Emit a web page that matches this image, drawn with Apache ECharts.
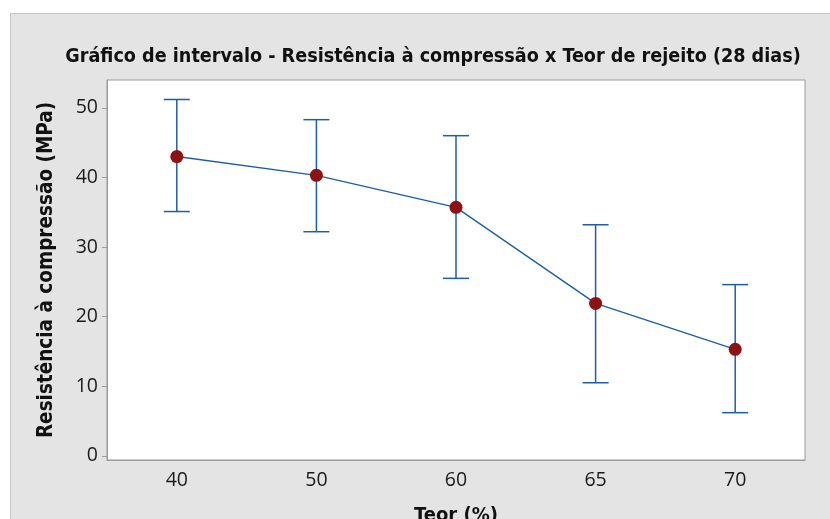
<!DOCTYPE html>
<html>
<head>
<meta charset="utf-8">
<script src="https://cdn.jsdelivr.net/npm/echarts@6/dist/echarts.min.js"></script>
<style>
    html, body { margin: 0; padding: 0; background: #fff; }
    #intervalo { width: 830px; height: 519px; }
</style>
</head>
<body>
<div id="intervalo"></div>
<script>
    // dados
    var teor = ['40', '50', '60', '65', '70'];
    var media = [43.0, 40.3, 35.7, 21.9, 15.3];
    var limiteInf = [35.1, 32.2, 25.5, 10.5, 6.2];
    var limiteSup = [51.2, 48.3, 46.0, 33.2, 24.6];
    var yTicks = [0, 10, 20, 30, 40, 50];

    var azul = '#1d5fa6';
    var barras = teor.map(function (t, i) { return [i, limiteInf[i], limiteSup[i]]; });

    var chart = echarts.init(document.getElementById('intervalo'));
    chart.setOption({
        animation: false,
        textStyle: { fontFamily: 'Open Sans' },
        graphic: [{
            type: 'rect',
            z: -10,
            shape: { x: 10.5, y: 13.5, width: 830, height: 520 },
            style: { fill: '#e4e4e4', stroke: '#c4c4c4', lineWidth: 1 }
        }],
        title: {
            text: 'Gráfico de intervalo - Resistência à compressão x Teor de rejeito (28 dias)',
            left: 428,
            textAlign: 'center',
            top: 42,
            textStyle: {
                fontFamily: 'DejaVu Sans Condensed',
                fontWeight: 'bold',
                fontSize: 19.6,
                color: '#111'
            }
        },
        grid: {
            left: 107, right: 25, top: 80, bottom: 59,
            outerBoundsMode: 'none',
            show: true,
            backgroundColor: '#fff',
            borderColor: '#9a9a9a',
            borderWidth: 1
        },
        xAxis: {
            type: 'category',
            data: teor,
            name: 'Teor (%)',
            nameLocation: 'middle',
            nameGap: 46,
            nameTextStyle: { fontFamily: 'DejaVu Sans Condensed', fontWeight: 'bold', fontSize: 20, color: '#111' },
            axisLine: { onZero: false, lineStyle: { color: '#9a9a9a' } },
            axisTick: { alignWithLabel: true, length: 5, lineStyle: { color: '#9a9a9a' } },
            axisLabel: { fontSize: 19.5, color: '#1a1a1a', margin: 10 },
            splitLine: { show: false }
        },
        yAxis: {
            type: 'value',
            min: -0.6,
            max: 54,
            name: 'Resistência à compressão (MPa)',
            nameLocation: 'middle',
            nameGap: 50,
            nameTextStyle: { fontFamily: 'DejaVu Sans Condensed', fontWeight: 'bold', fontSize: 20.5, color: '#111' },
            axisLine: { show: true, lineStyle: { color: '#9a9a9a' } },
            axisTick: { show: true, length: 5, customValues: yTicks, lineStyle: { color: '#9a9a9a' } },
            axisLabel: {
                fontSize: 19.5, color: '#1a1a1a', margin: 9,
                customValues: yTicks
            },
            splitLine: { show: false }
        },
        series: [{
            type: 'custom',
            data: barras,
            z: 2,
            renderItem: function (params, api) {
                var x = api.value(0);
                var p1 = api.coord([x, api.value(1)]);
                var p2 = api.coord([x, api.value(2)]);
                var w = 13;
                var st = { stroke: azul, lineWidth: 1.5 };
                return {
                    type: 'group',
                    children: [
                        { type: 'line', shape: { x1: p1[0], y1: p1[1], x2: p2[0], y2: p2[1] }, style: st },
                        { type: 'line', shape: { x1: p1[0] - w, y1: p1[1], x2: p1[0] + w, y2: p1[1] }, style: st },
                        { type: 'line', shape: { x1: p2[0] - w, y1: p2[1], x2: p2[0] + w, y2: p2[1] }, style: st }
                    ]
                };
            }
        }, {
            type: 'line',
            data: media,
            z: 3,
            symbol: 'circle',
            symbolSize: 13,
            lineStyle: { color: azul, width: 1.4 },
            itemStyle: { color: '#8e1212' }
        }]
    });
</script>
</body>
</html>
